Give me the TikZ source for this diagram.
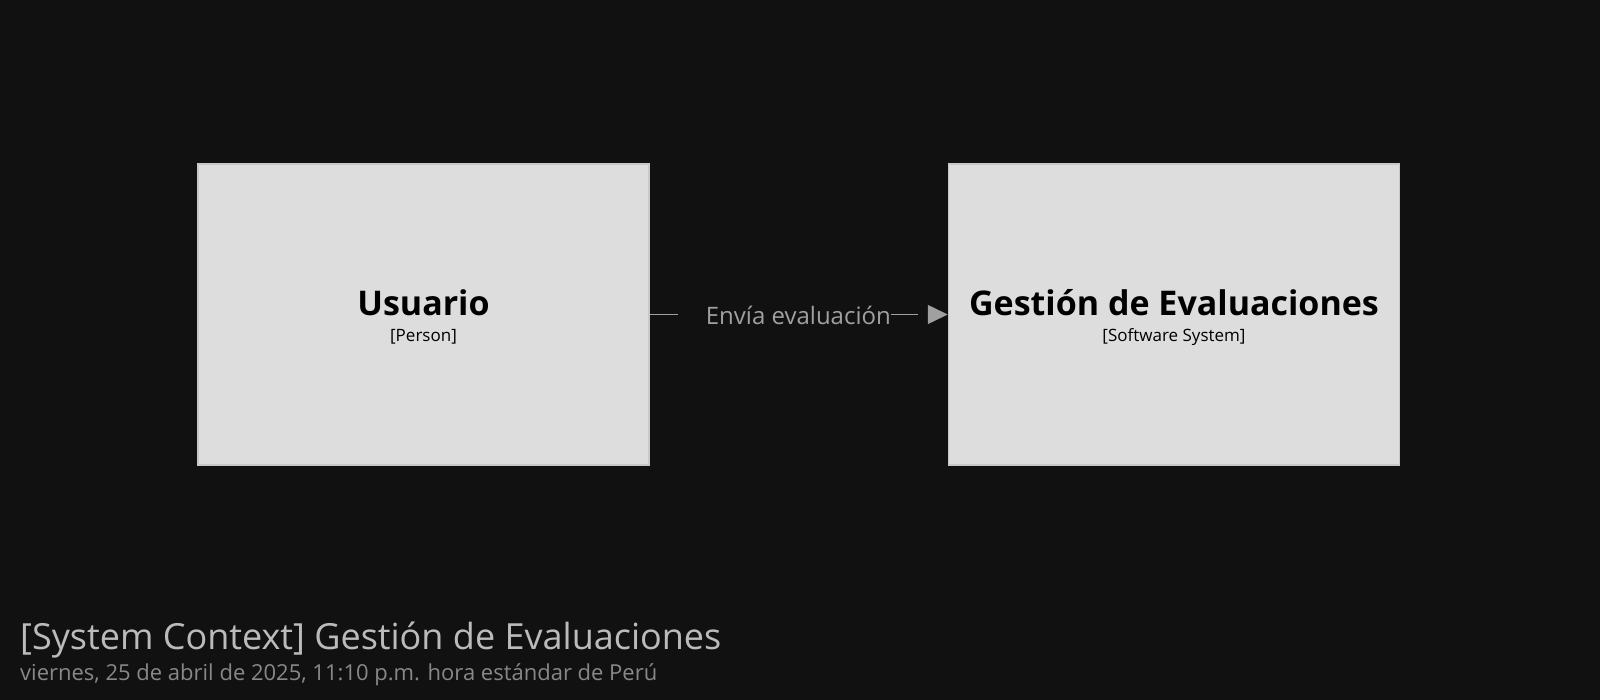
\documentclass[tikz,border=0pt]{standalone}
\usepackage{fontspec}
\setmainfont{Open Sans}
\usetikzlibrary{arrows.meta}
\definecolor{bg}{HTML}{111111}
\definecolor{boxfill}{HTML}{DDDDDD}
\definecolor{boxline}{HTML}{C8C8C8}
\definecolor{conn}{HTML}{A0A0A0}
\definecolor{titlecol}{HTML}{BBBBBB}
\definecolor{subcol}{HTML}{888888}
\tikzset{
  elem/.style={draw=boxline, fill=boxfill, line width=1.5pt, minimum width=451pt, minimum height=301pt, inner sep=0pt},
  elemname/.style={anchor=base, inner sep=0pt, text=black, font=\bfseries\fontsize{34}{40}\selectfont},
  elemtype/.style={anchor=base, inner sep=0pt, text=black, font=\fontsize{17}{20}\selectfont},
  relline/.style={draw=conn, line width=1.5pt, shorten >=30pt},
  reltip/.style={draw=conn, fill=conn, line width=1.5pt, -{Triangle[length=20pt,width=19pt]}},
  rellabel/.style={fill=bg, text=conn, inner xsep=0pt, inner ysep=4pt, font=\fontsize{24}{28}\selectfont},
}
\begin{document}
\begin{tikzpicture}[x=1pt,y=-1pt]
\fill[bg] (0,0) rectangle (1600,700);
\useasboundingbox (0,0) rectangle (1600,700);
\node[elem] (usr) at (423.5,314.5) {};
\node[elemname] (usrname) at ([yshift=-1pt]usr.center) {Usuario};
\node[elemtype] (usrtype) at ([yshift=-27pt]usr.center) {[Person]};
\node[elem] (ges) at (1174,314.5) {};
\node[elemname] (gesname) at ([yshift=-1pt]ges.center) {Gestión de Evaluaciones};
\node[elemtype] (gestype) at ([yshift=-27pt]ges.center) {[Software System]};
\draw[relline] (usr.east) -- (ges.west);
\draw[reltip] ([xshift=-20pt]ges.west) -- (ges.west);
\node[rellabel, anchor=east] (lbl) at (891,315) {\hspace*{28pt}Envía evaluación};
\node[anchor=base west, text=titlecol, inner sep=0pt, font=\fontsize{36}{40}\selectfont] (title) at (20,649) {[System Context] Gestión de Evaluaciones};
\node[anchor=base west, text=subcol, inner sep=0pt, font=\fontsize{22}{28}\selectfont] (sub) at (20,680) {viernes, 25 de abril de 2025, 11:10 p.m. hora estándar de Perú};
\end{tikzpicture}
\end{document}
